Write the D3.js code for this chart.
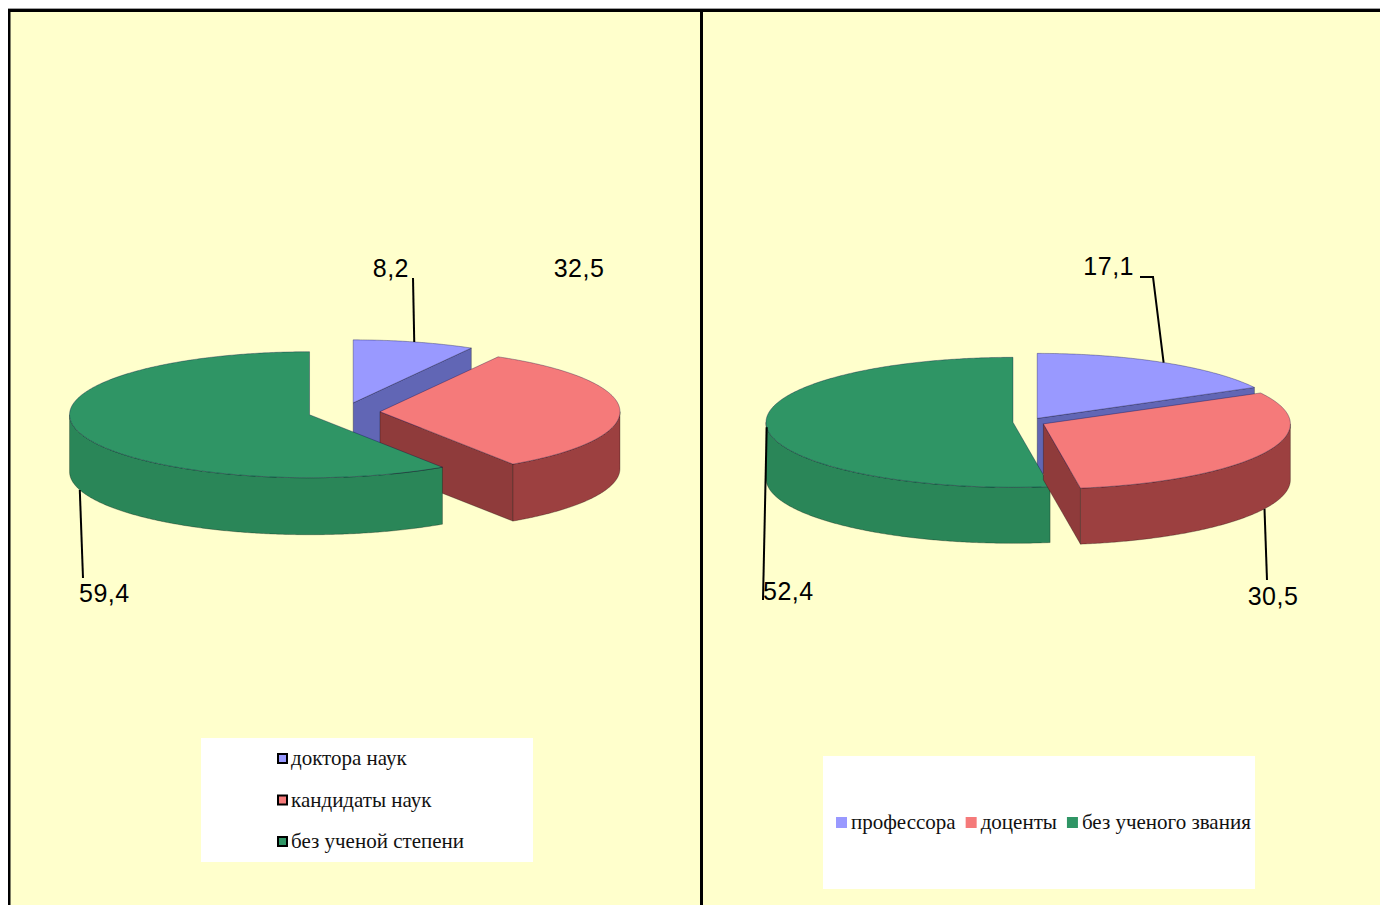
<!DOCTYPE html>
<html>
<head>
<meta charset="utf-8">
<script src="https://cdn.jsdelivr.net/npm/d3@7"></script>
<style>
body { margin: 0; background: #fff; }
svg { display: block; }
</style>
</head>
<body>
<svg id="chart" width="1380" height="905"></svg>
<script>
// chart data
var degreeNames = ["доктора наук", "кандидаты наук", "без ученой степени"];
var degreeValues = [8.2, 32.5, 59.4];
var degreeLabels = ["8,2", "32,5", "59,4"];

var titleNames = ["профессора", "доценты", "без ученого звания"];
var titleValues = [17.1, 30.5, 52.4];
var titleLabels = ["17,1", "30,5", "52,4"];

var topColors = ["#9999ff", "#f57a7a", "#2f9565"];
var sideColors = ["#6a70c6", "#9c4040", "#2a8658"];

var svg = d3.select("#chart");

// background and frame lines
svg.append("rect").attr("x", 10).attr("y", 11).attr("width", 1370).attr("height", 894).attr("fill", "#ffffcc");
svg.append("rect").attr("x", 8).attr("y", 8).attr("width", 1372).attr("height", 1).attr("fill", "#a0a0a0");
svg.append("rect").attr("x", 8).attr("y", 9).attr("width", 1372).attr("height", 3).attr("fill", "#000");
svg.append("rect").attr("x", 8).attr("y", 9).attr("width", 2.5).attr("height", 896).attr("fill", "#000");
svg.append("rect").attr("x", 700).attr("y", 9).attr("width", 3).attr("height", 896).attr("fill", "#000");

var line = d3.line().x(function(d){ return d[0]; }).y(function(d){ return d[1]; });

function drawPie3d(values, labels, opt) {
	var arcs = d3.pie().sort(null)(values);
	var g = svg.append("g");

	function pt(cx, cy, a, down) {
		return [cx + opt.rx * Math.sin(a), cy - opt.ry * Math.cos(a) + (down ? opt.depth : 0)];
	}
	function rim(cx, cy, a0, a1, down) {
		var pts = [];
		var n = Math.max(2, Math.ceil((a1 - a0) / 0.01));
		for (var k = 0; k <= n; k++) pts.push(pt(cx, cy, a0 + (a1 - a0) * k / n, down));
		return pts;
	}

	// exploded centres
	var slices = arcs.map(function(d, i) {
		var mid = (d.startAngle + d.endAngle) / 2;
		return {
			i: i, a0: d.startAngle, a1: d.endAngle, mid: mid,
			cx: opt.cx + opt.explode * opt.rx * Math.sin(mid),
			cy: opt.cy - opt.explode * opt.ry * Math.cos(mid)
		};
	});

	var order = slices.slice().sort(function(a, b){ return a.cy - b.cy; });
	order.forEach(function(s) {
		var sg = g.append("g");
		var c = [s.cx, s.cy], cd = [s.cx, s.cy + opt.depth];
		// cut faces
		[[s.a0, Math.sin(s.a0) < -1e-6], [s.a1, Math.sin(s.a1) > 1e-6]].forEach(function(w) {
			if (!w[1]) return;
			sg.append("path")
				.attr("d", line([c, pt(s.cx, s.cy, w[0]), pt(s.cx, s.cy, w[0], true), cd]) + "Z")
				.attr("fill", d3.color(sideColors[s.i]).darker(0.25))
				.attr("stroke", "rgba(0,0,0,0.35)").attr("stroke-width", 0.8);
		});
		// outer wall, front half only
		var w0 = Math.max(s.a0, Math.PI / 2), w1 = Math.min(s.a1, Math.PI * 1.5);
		if (w1 > w0) {
			var pts = rim(s.cx, s.cy, w0, w1, false).concat(rim(s.cx, s.cy, w0, w1, true).reverse());
			sg.append("path")
				.attr("d", line(pts) + "Z")
				.attr("fill", sideColors[s.i])
				.attr("stroke", "rgba(0,0,0,0.35)").attr("stroke-width", 0.8);
		}
		// top face
		sg.append("path")
			.attr("d", line([c].concat(rim(s.cx, s.cy, s.a0, s.a1, false))) + "Z")
			.attr("fill", topColors[s.i])
			.attr("stroke", "rgba(0,0,60,0.4)").attr("stroke-width", 0.8);
	});

	// data labels with leader lines
	slices.forEach(function(s) {
		var L = opt.labels[s.i];
		if (L.leader) {
			var start = pt(s.cx, s.cy, s.mid, L.fromBottom);
			var pts = [start].concat(L.leader);
			g.append("path").attr("d", line(pts)).attr("fill", "none")
				.attr("stroke", "#000").attr("stroke-width", 2);
		}
		g.append("text")
			.attr("x", L.x).attr("y", L.y)
			.attr("text-anchor", L.anchor)
			.attr("font-family", "Liberation Sans, Arial, sans-serif")
			.attr("font-size", 25)
			.attr("letter-spacing", 0.5)
			.attr("fill", "#000")
			.text(labels[s.i]);
	});
}

drawPie3d(degreeValues, degreeLabels, {
	cx: 344, cy: 412, rx: 240, ry: 63, depth: 57, explode: 0.15,
	labels: [
		{ x: 409, y: 277, anchor: "end", leader: [[413, 278]] },
		{ x: 579, y: 277, anchor: "middle" },
		{ x: 79, y: 602, anchor: "start", fromBottom: true, leader: [[83, 578]] }
	]
});

drawPie3d(titleValues, titleLabels, {
	cx: 1029, cy: 422, rx: 247, ry: 65, depth: 56, explode: 0.065,
	labels: [
		{ x: 1134, y: 275, anchor: "end", leader: [[1153, 277], [1140, 277]] },
		{ x: 1273, y: 605, anchor: "middle", fromBottom: true, leader: [[1267, 580]] },
		{ x: 763, y: 600, anchor: "start", leader: [[763, 600]] }
	]
});

// legend, left chart (vertical)
var legL = svg.append("g");
legL.append("rect").attr("x", 201).attr("y", 738).attr("width", 332).attr("height", 124).attr("fill", "#fff");
degreeNames.forEach(function(name, i) {
	var y = 759 + i * 41.5;
	legL.append("rect").attr("x", 278).attr("y", y - 5).attr("width", 9).attr("height", 9)
		.attr("fill", topColors[i]).attr("stroke", "#000").attr("stroke-width", 2);
	legL.append("text").attr("x", 291).attr("y", y + 6)
		.attr("font-family", "Liberation Serif, Times New Roman, serif")
		.attr("font-size", 21).attr("fill", "#111").text(name);
});

// legend, right chart (horizontal)
var legR = svg.append("g");
legR.append("rect").attr("x", 823).attr("y", 756).attr("width", 432).attr("height", 133).attr("fill", "#fff");
var lx = 836;
titleNames.forEach(function(name, i) {
	legR.append("rect").attr("x", lx).attr("y", 817).attr("width", 11).attr("height", 11)
		.attr("fill", topColors[i]);
	var t = legR.append("text").attr("x", lx + 15).attr("y", 829)
		.attr("font-family", "Liberation Serif, Times New Roman, serif")
		.attr("font-size", 21).attr("fill", "#111").text(name);
	lx = lx + 15 + t.node().getComputedTextLength() + 10;
});
</script>
</body>
</html>
